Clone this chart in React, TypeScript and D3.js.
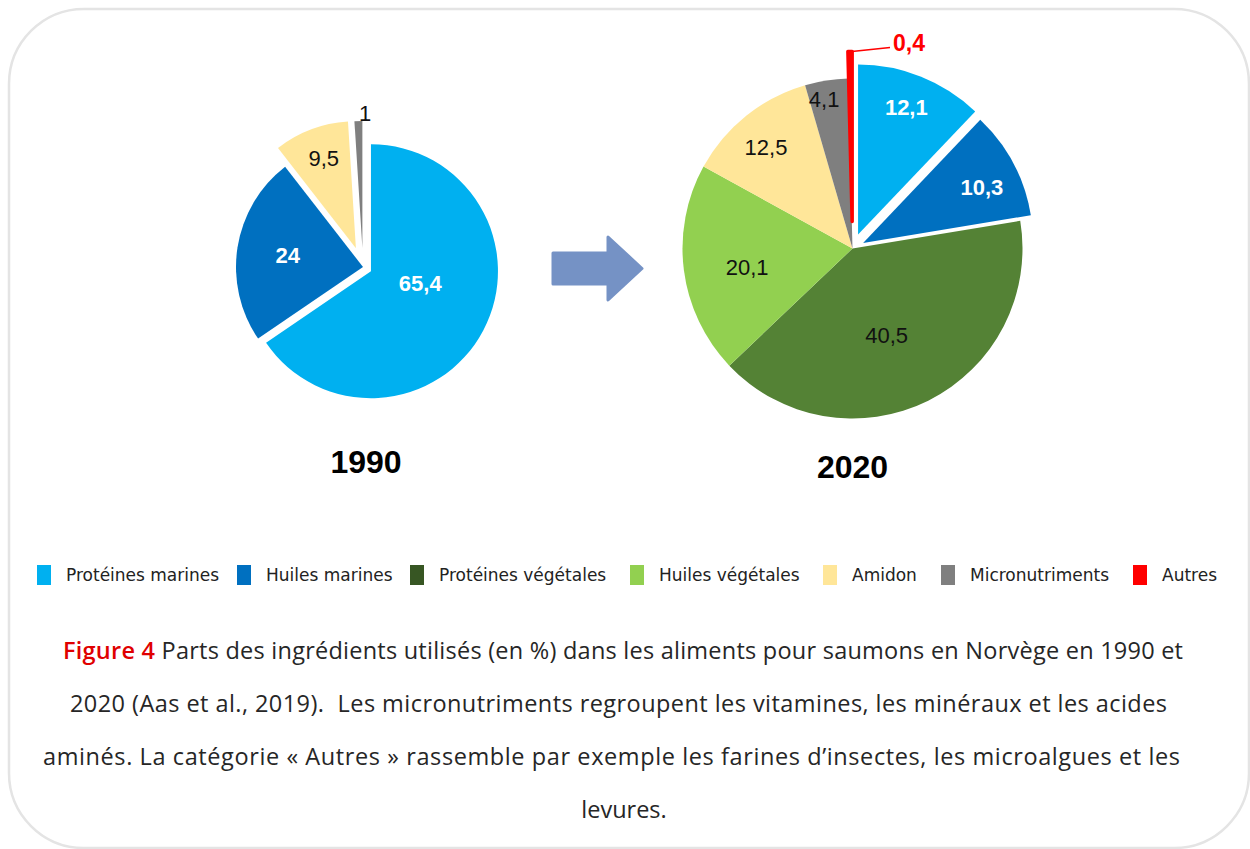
import React from "react";
import * as d3 from "d3";

// ---------- data ----------
const categories = [
  "Protéines marines",
  "Huiles marines",
  "Protéines végétales",
  "Huiles végétales",
  "Amidon",
  "Micronutriments",
  "Autres",
];
const values1990 = [65.4, 24, 0, 0, 9.5, 1, 0];
const values2020 = [12.1, 10.3, 40.5, 20.1, 12.5, 4.1, 0.4];
const labels1990 = ["65,4", "24", "", "", "9,5", "1", ""];
const labels2020 = ["12,1", "10,3", "40,5", "20,1", "12,5", "4,1", "0,4"];
const years = ["1990", "2020"];

const captionLines = [
  " Parts des ingrédients utilisés (en %) dans les aliments pour saumons en Norvège en 1990 et",
  "2020 (Aas et al., 2019).\u00A0 Les micronutriments regroupent les vitamines, les minéraux et les acides",
  "aminés. La catégorie « Autres » rassemble par exemple les farines d’insectes, les microalgues et les",
  "levures.",
];
const captionLead = "Figure 4";

// ---------- styles / layout ----------
const sliceColors = ["#00B0F0", "#0070C0", "#548235", "#92D050", "#FFE699", "#7F7F7F", "#FF0000"];
const legendColors = ["#00B0F0", "#0070C0", "#375623", "#92D050", "#FFE699", "#7F7F7F", "#FF0000"];
const legendX = [37, 237, 410, 630, 823, 941, 1133];
const captionX = [63, 70, 43];
const captionW = [1120, 1097, 1137];

const chartFont = "'DejaVu Sans', sans-serif";
const numFont = "'Liberation Sans', Arial, sans-serif";
const captionFont = "'Open Sans', sans-serif";

type PieCfg = {
  values: number[];
  labels: string[];
  cx: number;
  cy: number;
  r: number;
  explode: number[];
  labelR: number[];
  labelShift: number[];
  titleY: number;
};

const pies: PieCfg[] = [
  {
    values: values1990,
    labels: labels1990,
    cx: 363,
    cy: 267,
    r: 127,
    explode: [9, 0, 0, 0, 20, 19, 0],
    labelR: [0.4, 0.6, 0, 0, 0.75, 1.06, 0],
    labelShift: [-14, 0, 0, 0, 1, 3, 0],
    titleY: 473,
  },
  {
    values: values2020,
    labels: labels2020,
    cx: 852.5,
    cy: 248.5,
    r: 170,
    explode: [15, 12, 0, 0, 0, 0, 27],
    labelR: [0.8, 0.77, 0.55, 0.63, 0.78, 0.89, 1],
    labelShift: [-1, 3, 5, -3, -2, -2, 0],
    titleY: 478,
  },
];

const polar = (a: number, r: number) => [r * Math.sin(a), -r * Math.cos(a)];
const rad = (deg: number) => (deg * Math.PI) / 180;

function Pie({ cfg, year }: { cfg: PieCfg; year: string }) {
  const pie = d3
    .pie<number>()
    .sort(null)
    .value((d) => d)
    .startAngle(0)
    .endAngle(2 * Math.PI);
  const arcs = pie(cfg.values);
  const arc = d3.arc<d3.PieArcDatum<number>>().innerRadius(0).outerRadius(cfg.r);

  return (
    <g>
      {arcs.map((a, i) => {
        if (a.value <= 0) return null;
        const mid = (a.startAngle + a.endAngle) / 2;
        const [ox, oy] = polar(mid, cfg.explode[i]);
        const isRed = i === 6;
        return (
          <g key={"s" + i} transform={`translate(${cfg.cx + ox},${cfg.cy + oy})`}>
            <path
              d={arc(a) || ""}
              fill={sliceColors[i]}
              stroke={isRed ? sliceColors[i] : "none"}
              strokeWidth={isRed ? 3.5 : 0}
              strokeLinejoin="round"
            />
          </g>
        );
      })}
      {arcs.map((a, i) => {
        if (a.value <= 0 || !cfg.labels[i]) return null;
        const mid = (a.startAngle + a.endAngle) / 2;
        const [ox, oy] = polar(mid, cfg.explode[i]);
        const tx = cfg.cx + ox;
        const ty = cfg.cy + oy;
        if (i === 6) {
          // outside label with leader line
          const [px, py] = polar(mid, cfg.r);
          const x0 = tx + px + 2;
          const y0 = ty + py;
          const x1 = x0 + 38;
          const y1 = y0 - 4;
          return (
            <g key={"l" + i}>
              <polyline
                points={`${x0 - 2},${y0 + 1} ${x0},${y0} ${x1},${y1}`}
                fill="none"
                stroke="#FF0000"
                strokeWidth={1.6}
              />
              <text
                x={x1 + 3}
                y={y1 + 3}
                fontFamily={numFont}
                fontSize={23}
                fontWeight="bold"
                fill="#FF0000"
              >
                {cfg.labels[i]}
              </text>
            </g>
          );
        }
        const la = mid + rad(cfg.labelShift[i]);
        const [lx, ly] = polar(la, cfg.r * cfg.labelR[i]);
        const white = i <= 1;
        return (
          <text
            key={"l" + i}
            x={tx + lx}
            y={ty + ly}
            textAnchor="middle"
            dominantBaseline="central"
            fontFamily={numFont}
            fontSize={22}
            fontWeight={white ? "bold" : "normal"}
            fill={white ? "#FFFFFF" : "#111111"}
          >
            {cfg.labels[i]}
          </text>
        );
      })}
      <text
        x={cfg.cx + (year === "1990" ? 3 : 0)}
        y={cfg.titleY}
        textAnchor="middle"
        fontFamily={numFont}
        fontSize={32}
        fontWeight="bold"
        fill="#000"
      >
        {year}
      </text>
    </g>
  );
}

export default function App() {
  const W = 1250;
  const H = 849;
  return (
    <svg
      width={W}
      height={H}
      style={{ position: "absolute", left: 0, top: 0, background: "#fff" }}
    >
      <rect x={9} y={9} width={1240} height={839} rx={75} ry={75} fill="#fff" stroke="#E4E4E4" strokeWidth={2.5} />
      {pies.map((p, k) => (
        <Pie key={k} cfg={p} year={years[k]} />
      ))}
      {/* arrow */}
      <path
        d="M553,253 L608,253 L608,237 L642,268.5 L608,300 L608,284 L553,284 Z"
        fill="#7592C5"
        stroke="#7592C5"
        strokeWidth={3}
        strokeLinejoin="round"
      />
      {/* legend */}
      {categories.map((c, i) => (
        <g key={c}>
          <rect x={legendX[i]} y={565} width={14} height={20} fill={legendColors[i]} />
          <text x={legendX[i] + 29} y={581} fontFamily={chartFont} fontSize={17} fill="#222">
            {c}
          </text>
        </g>
      ))}
      {/* caption */}
      <g fontFamily={captionFont} fontSize={23.5} fill="#262626">
        <text x={captionX[0]} y={659} textLength={captionW[0]} lengthAdjust="spacing" xmlSpace="preserve">
          <tspan fill="#E00000" fontWeight={600}>{captionLead}</tspan>
          {captionLines[0]}
        </text>
        <text x={captionX[1]} y={712} textLength={captionW[1]} lengthAdjust="spacing" xmlSpace="preserve">
          {captionLines[1]}
        </text>
        <text x={captionX[2]} y={765} textLength={captionW[2]} lengthAdjust="spacing" xmlSpace="preserve">
          {captionLines[2]}
        </text>
        <text x={624} y={818} textAnchor="middle">{captionLines[3]}</text>
      </g>
    </svg>
  );
}
